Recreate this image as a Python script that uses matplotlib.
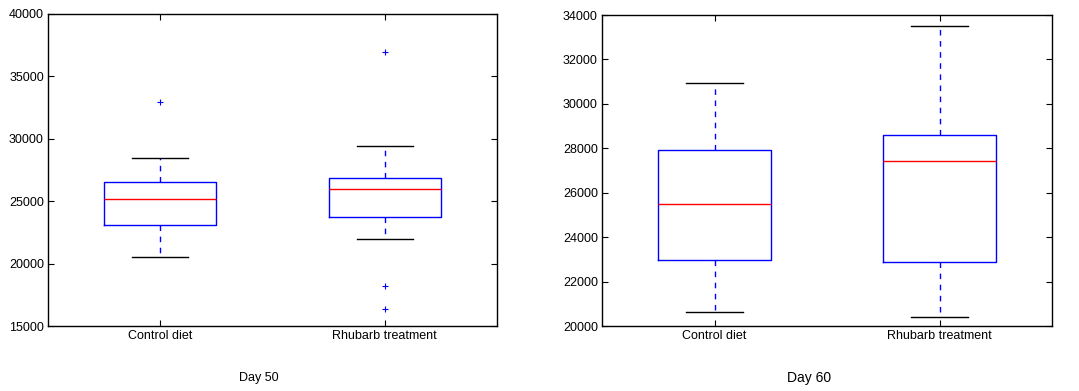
import matplotlib as mpl
mpl.use("Agg")
import matplotlib.pyplot as plt

mpl.rcParams.update({"font.family": ["Liberation Sans", "DejaVu Sans"], "font.size": 9})

groups = ["Control diet", "Rhubarb treatment"]

# Day 50
d50_whislo = [20500, 21950]
d50_q1 = [23070, 23760]
d50_med = [25200, 26000]
d50_q3 = [26570, 26860]
d50_whishi = [28430, 29400]
d50_fliers = [[32920], [36930, 18200, 16360]]

# Day 60
d60_whislo = [20620, 20390]
d60_q1 = [22990, 22870]
d60_med = [25480, 27410]
d60_q3 = [27910, 28580]
d60_whishi = [30920, 33490]
d60_fliers = [[], []]


def make_stats(whislo, q1, med, q3, whishi, fliers):
  stats = []
  for i in range(len(groups)):
    stats.append({"whislo": whislo[i], "q1": q1[i], "med": med[i], "q3": q3[i],
                  "whishi": whishi[i], "fliers": fliers[i], "label": groups[i]})
  return stats


def draw(ax, stats, ylim, yticks):
  ax.bxp(stats, widths=0.5,
         boxprops=dict(color="b", linewidth=1),
         medianprops=dict(color="r", linewidth=1),
         whiskerprops=dict(color="b", linestyle="--", linewidth=1, dashes=(4, 4)),
         capprops=dict(color="k", linewidth=1),
         flierprops=dict(marker="+", markeredgecolor="b", markersize=4,
                         markeredgewidth=0.8, linestyle="none"))
  ax.set_xlim(0.5, 2.5)
  ax.set_ylim(*ylim)
  ax.set_yticks(yticks)
  ax.tick_params(direction="in", top=True, right=True, length=4, labelsize=9, pad=3)
  for s in ax.spines.values():
    s.set_linewidth(1)


fig = plt.figure(figsize=(10.79, 3.91), dpi=100)
ax1 = fig.add_axes([0.0445, 0.1662, 0.4161, 0.798])
ax2 = fig.add_axes([0.558, 0.1662, 0.417, 0.7954])

draw(ax1, make_stats(d50_whislo, d50_q1, d50_med, d50_q3, d50_whishi, d50_fliers),
     (15000, 40000), range(15000, 40001, 5000))
draw(ax2, make_stats(d60_whislo, d60_q1, d60_med, d60_q3, d60_whishi, d60_fliers),
     (20000, 34000), range(20000, 34001, 2000))

fig.text(259 / 1079, 1 - 378 / 391, "Day 50", ha="center", va="center", fontsize=9)
fig.text(809 / 1079, 1 - 378 / 391, "Day 60", ha="center", va="center", fontsize=10)

fig.savefig("out.png", dpi=100)
